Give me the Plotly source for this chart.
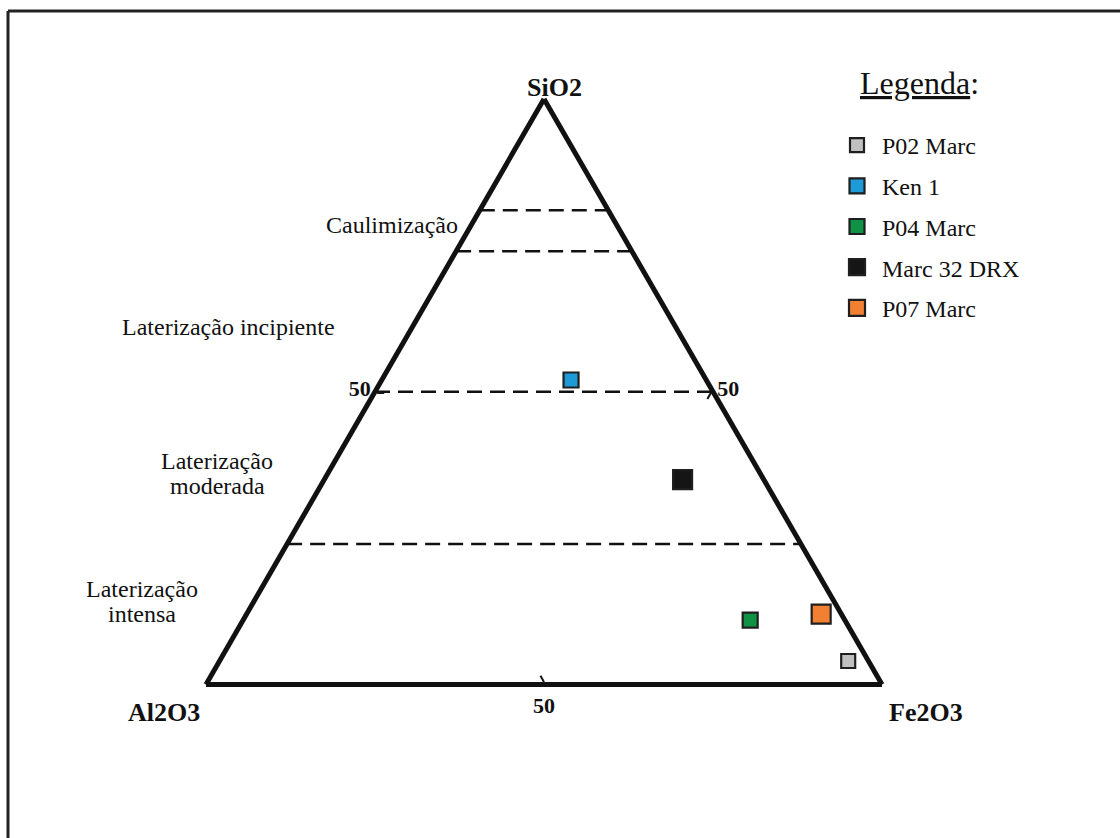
import plotly.graph_objects as go

W, H = 1120, 838

# ---- data (ternary %: SiO2, Al2O3, Fe2O3) ----
samples = ["P02 Marc", "Ken 1", "P04 Marc", "Marc 32 DRX", "P07 Marc"]
sio2 = [4, 52, 11, 35, 12]
al2o3 = [3, 20, 14, 12, 3]
fe2o3 = [93, 28, 75, 53, 85]
colors = ["#c0c0c0", "#1e9bd7", "#0f9246", "#151515", "#f28033"]
sizes = [14, 15, 15, 19, 19]

# horizontal SiO2 limits separating weathering zones
zone_limits_sio2 = [81, 74, 50, 24]
zone_labels = [["Caulimização"], ["Laterização incipiente"],
               ["Laterização", "moderada"], ["Laterização", "intensa"]]
tick_values = [50]
tick_text = ["50"]

SERIF = "Liberation Serif"
INK = "#111111"

fig = go.Figure()

# dashed zone limits
for a in zone_limits_sio2:
    fig.add_trace(go.Scatterternary(
        a=[a, a], b=[100 - a, 0], c=[0, 100 - a],
        mode="lines", line=dict(color=INK, width=2.6, dash="15px,8px"),
        showlegend=False, hoverinfo="skip"))

# samples
for i, name in enumerate(samples):
    fig.add_trace(go.Scatterternary(
        a=[sio2[i]], b=[al2o3[i]], c=[fe2o3[i]],
        mode="markers", name=name, legendgroup=name,
        marker=dict(symbol="square", size=sizes[i], color=colors[i],
                    line=dict(color="#1f1f1f", width=2.2))))

axis_common = dict(
    linecolor=INK, linewidth=5, showgrid=False,
    tickvals=tick_values, ticktext=tick_text, ticks="inside", ticklen=7,
    tickwidth=2, tickcolor=INK, showticklabels=True,
    tickfont=dict(family=SERIF, size=22, color=INK, weight="bold"),
    title=dict(text=""), min=0)

# triangle: width 676 px, centred at x=544, top at y=99
tri_w = 676
tri_h = tri_w * 3 ** 0.5 / 2
cx = 544 / W
cy = 1 - (99 + tri_h / 2) / H
dx = tri_w / W / 2

fig.update_layout(
    width=W, height=H,
    margin=dict(l=0, r=0, t=0, b=0),
    paper_bgcolor="white", plot_bgcolor="white",
    ternary=dict(
        sum=100,
        bgcolor="rgba(0,0,0,0)",
        domain=dict(x=[cx - dx, cx + dx], y=[cy - 0.4, cy + 0.4]),
        aaxis=axis_common, baxis=axis_common, caxis=axis_common),
    showlegend=True,
    legend=dict(x=832 / W, xanchor="left", y=1 - 123 / H, yanchor="top",
                font=dict(family=SERIF, size=24, color=INK),
                tracegroupgap=6.5, bgcolor="rgba(0,0,0,0)",
                itemsizing="trace", itemwidth=40),
    font=dict(family=SERIF, color=INK),
)


def ann(text, px, py, size, bold=False, xanchor="center"):
    fig.add_annotation(
        text=text, x=px / W, y=1 - py / H, xref="paper", yref="paper",
        showarrow=False, align="left" if xanchor == "left" else "center",
        xanchor=xanchor, yanchor="middle",
        font=dict(family=SERIF, size=size, color=INK,
                  weight="bold" if bold else "normal"))


# vertex titles
ann("SiO2", 554, 88, 26, bold=True)
ann("Al2O3", 164, 712, 26, bold=True)
ann("Fe2O3", 926, 712, 26, bold=True)

# zone labels (one annotation per text line)
label_pos = [[(392, 225)], [(228, 327)],
             [(217, 461), (217, 486)], [(142, 589), (142, 614)]]
for lines, poss in zip(zone_labels, label_pos):
    for txt, (px, py) in zip(lines, poss):
        ann(txt, px, py, 24)

# legend heading
ann("<u>Legenda</u>:", 858, 83, 32, xanchor="left")

# frame (top + left)
fig.add_shape(type="line", xref="paper", yref="paper",
              x0=8 / W, y0=1 - 11 / H, x1=1, y1=1 - 11 / H,
              line=dict(color="#222222", width=3))
fig.add_shape(type="line", xref="paper", yref="paper",
              x0=8 / W, y0=1 - 11 / H, x1=8 / W, y1=0,
              line=dict(color="#222222", width=3))

fig.write_html("out.html")
